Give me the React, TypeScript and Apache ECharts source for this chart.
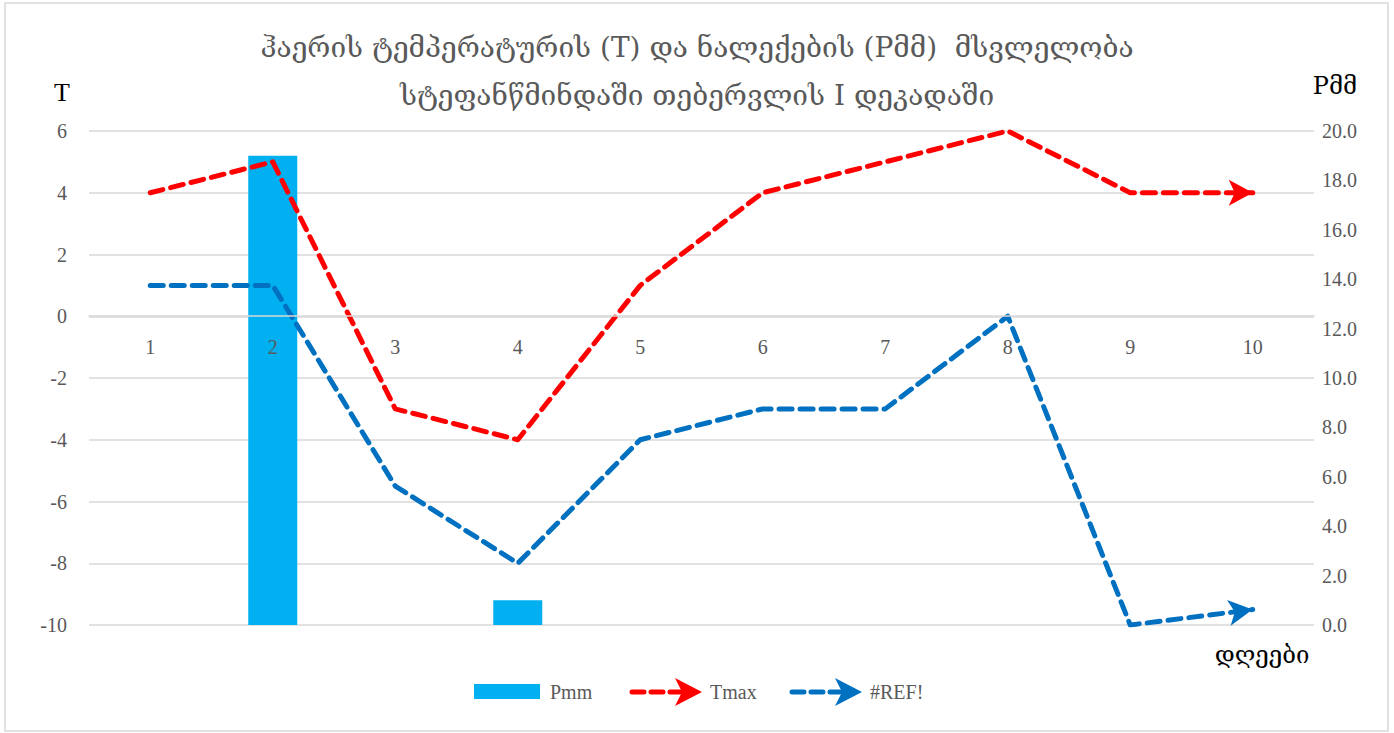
import React, { useEffect, useRef } from "react";
import * as echarts from "echarts";

const days = ["1", "2", "3", "4", "5", "6", "7", "8", "9", "10"];
const pmm = [0, 19.0, 0, 1.0, 0, 0, 0, 0, 0, 0];
const tmax = [4, 5, -3, -4, 1, 4, 5, 6, 4, 4];
const tref = [1, 1, -5.5, -8, -4, -3, -3, 0, -10, -9.5];
const tTicks = { min: -10, max: 6, interval: 2 };
const pTicks = { min: 0, max: 20, interval: 2 };

const titleText =
  "ჰაერის ტემპერატურის (T) და ნალექების (Pმმ)  მსვლელობა\nსტეფანწმინდაში თებერვლის I დეკადაში";

const SERIF = "'Liberation Serif', 'DejaVu Serif', serif";
const GEO = "'DejaVu Serif', 'DejaVu Sans', serif";
const GREY = "#595959";
const RED = "#FF0000";
const BLUE = "#0070C0";
const CYAN = "#00B0F0";

const ARROW = "path://M0,0 L24,13 L0,26 L6,13 Z";

function lastArrow(values: number[], rotate: number, offset: number[]) {
  return values.map((v, i) =>
    i === values.length - 1
      ? {
          value: v,
          symbol: ARROW,
          symbolSize: [24, 26],
          symbolRotate: rotate,
          symbolOffset: offset,
        }
      : { value: v, symbol: "none" }
  );
}

function legendLine(x: number, y: number, color: string, label: string) {
  return {
    type: "group",
    children: [
      {
        type: "line",
        shape: { x1: x, y1: y, x2: x + 48, y2: y },
        style: { stroke: color, lineWidth: 5, lineDash: [12, 7], lineCap: "round" },
      },
      {
        type: "polygon",
        shape: { points: [[x + 70, y], [x + 43, y + 14], [x + 50, y], [x + 43, y - 14]] },
        style: { fill: color },
      },
      {
        type: "text",
        x: x + 78,
        y: y,
        style: { text: label, font: `20px ${SERIF}`, fill: GREY, verticalAlign: "middle" },
      },
    ],
  };
}

export default function App() {
  const ref = useRef<HTMLDivElement>(null);
  useEffect(() => {
    const chart = echarts.init(ref.current!, undefined, { renderer: "svg" });
    chart.setOption({
      animation: false,
      backgroundColor: "#ffffff",
      title: {
        text: titleText,
        left: "center",
        top: 18,
        textStyle: { fontFamily: GEO, fontSize: 28, fontWeight: "normal", color: GREY, lineHeight: 48 },
      },
      grid: { left: 89, right: 80, top: 131, bottom: 108, containLabel: false },
      xAxis: {
        type: "category",
        data: days,
        offset: -309,
        axisLine: { onZero: false, lineStyle: { color: "#d9d9d9", width: 1.5 } },
        axisTick: { show: false },
        axisLabel: { margin: 21, fontFamily: SERIF, fontSize: 20, color: GREY },
        z: 5,
      },
      yAxis: [
        {
          type: "value",
          ...tTicks,
          axisLine: { show: false },
          axisTick: { show: false },
          splitLine: { lineStyle: { color: "#d9d9d9", width: 1.5 } },
          axisLabel: { margin: 22, fontFamily: SERIF, fontSize: 20, color: GREY },
        },
        {
          type: "value",
          ...pTicks,
          position: "right",
          axisLine: { show: false },
          axisTick: { show: false },
          splitLine: { show: false },
          axisLabel: {
            margin: 8,
            fontFamily: SERIF,
            fontSize: 20,
            color: GREY,
            formatter: (v: number) => v.toFixed(1),
          },
        },
      ],
      series: [
        {
          name: "Pmm",
          type: "bar",
          yAxisIndex: 1,
          data: pmm,
          barWidth: "40%",
          itemStyle: { color: CYAN },
          z: 1,
        },
        {
          name: "Tmax",
          type: "line",
          yAxisIndex: 0,
          data: lastArrow(tmax, 0, [-12, 0]),
          lineStyle: { color: RED, width: 5, type: [13, 8], cap: "round", join: "round" },
          itemStyle: { color: RED },
          z: 3,
        },
        {
          name: "#REF!",
          type: "line",
          yAxisIndex: 0,
          data: lastArrow(tref, 8, [-12, 1.7]),
          lineStyle: { color: BLUE, width: 5, type: [13, 8], cap: "round", join: "round" },
          itemStyle: { color: BLUE },
          z: 3,
        },
      ],
      graphic: [
        {
          type: "rect",
          shape: { x: 5, y: 3, width: 1383, height: 728 },
          style: { fill: "none", stroke: "#d9d9d9", lineWidth: 1.5 },
          silent: true,
        },
        {
          type: "text",
          x: 62,
          y: 92,
          style: { text: "T", font: `26px ${SERIF}`, fill: "#000", align: "center", verticalAlign: "middle" },
        },
        {
          type: "text",
          x: 1335,
          y: 86,
          style: { text: "Pმმ", font: `24px ${GEO}`, fill: "#000", align: "center", verticalAlign: "middle" },
        },
        {
          type: "text",
          x: 1262,
          y: 655,
          style: { text: "დღეები", font: `24px ${GEO}`, fill: "#000", align: "center", verticalAlign: "middle" },
        },
        {
          type: "group",
          children: [
            { type: "rect", shape: { x: 474, y: 684, width: 66, height: 15 }, style: { fill: CYAN } },
            {
              type: "text",
              x: 550,
              y: 692,
              style: { text: "Pmm", font: `20px ${SERIF}`, fill: GREY, verticalAlign: "middle" },
            },
          ],
        },
        legendLine(632, 692, RED, "Tmax"),
        legendLine(792, 692, BLUE, "#REF!"),
      ],
    });
    return () => chart.dispose();
  }, []);
  return (
    <div
      ref={ref}
      style={{ position: "absolute", left: 0, top: 0, width: 1394, height: 733 }}
    />
  );
}
